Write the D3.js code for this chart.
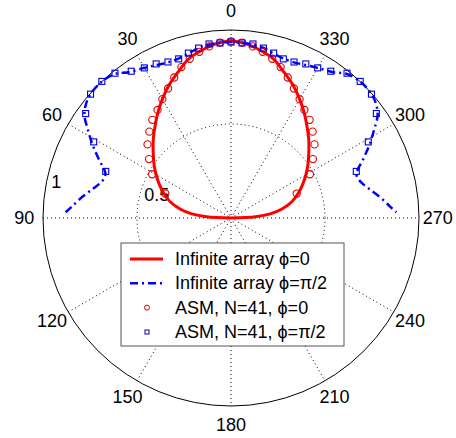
<!DOCTYPE html>
<html>
<head>
<meta charset="utf-8">
<script src="https://cdn.jsdelivr.net/npm/d3@7"></script>
<style>
  html, body { margin: 0; padding: 0; background: #fff; }
  svg { display: block; }
  text { font-family: "Liberation Sans", Arial, Helvetica, sans-serif; }
</style>
</head>
<body>
<svg id="chart" width="456" height="438"></svg>
<script>
// pattern values, one half (theta in degrees from broadside, other half is mirrored)
const lineAngles0 = [0, 5, 10, 15, 20, 25, 30, 35, 40, 45, 50, 55, 60, 65, 70, 75, 80, 84, 87, 90];
const lineValues0 = [0.941, 0.93, 0.905, 0.875, 0.825, 0.78, 0.73, 0.68, 0.63, 0.585, 0.54, 0.5, 0.46, 0.42, 0.38, 0.335, 0.275, 0.21, 0.13, 0];

const lineAngles90 = [0, 4, 7, 11, 14, 18, 22, 26, 30, 35, 39, 44, 49, 52, 55, 58, 62, 66, 70, 72, 75, 78, 82, 86, 88];
const lineValues90 = [0.936, 0.933, 0.93, 0.92, 0.906, 0.893, 0.893, 0.905, 0.922, 0.947, 0.985, 1.0, 0.995, 0.98, 0.952, 0.9, 0.835, 0.77, 0.712, 0.705, 0.72, 0.75, 0.8, 0.85, 0.88];

// ASM sample angles (N=41)
const asmAngles = [0, 3.6, 7.2, 10.8, 14.5, 18.2, 22.0, 25.9, 30.0, 34.2, 38.7, 43.4, 48.6, 54.3, 61.0, 69.6];
const asmValues0 = [0.94, 0.935, 0.92, 0.9, 0.875, 0.845, 0.806, 0.766, 0.73, 0.695, 0.669, 0.632, 0.592, 0.537, 0.48, 0.373];
const asmValues90 = [0.936, 0.933, 0.933, 0.92, 0.906, 0.891, 0.895, 0.911, 0.922, 0.944, 0.987, 1.0, 0.996, 0.952, 0.835, 0.711];

const spokeAngles = [0, 30, 60, 90, 120, 150];
const angleLabels = [0, 30, 60, 90, 120, 150, 180, 210, 240, 270, 300, 330];
const ringTicks = [0.5, 1];

const legendLabels = [
  "Infinite array \u03d5=0",
  "Infinite array \u03d5=\u03c0/2",
  "ASM, N=41, \u03d5=0",
  "ASM, N=41, \u03d5=\u03c0/2"
];

const svg = d3.select("#chart");
const cx = 231, cy = 218, R = 188;
const red = "#ff0000", blue = "#0000ff";

const rScale = d3.scaleLinear().domain([0, 1]).range([0, R]);
const rad = (deg) => -deg * Math.PI / 180; // counter-clockwise, 0 at top

const g = svg.append("g").attr("transform", `translate(${cx},${cy})`);

// mirror a half pattern into the full upper half-plane
function fullCurve(angles, values) {
  const left = angles.map((a, i) => ({ a: a, r: values[i] })).reverse();
  const right = angles.slice(1).map((a, i) => ({ a: -a, r: values[i + 1] }));
  return left.concat(right);
}
function pointsBoth(angles, values) {
  const pts = angles.map((a, i) => ({ a: a, r: values[i] }));
  return pts.concat(angles.slice(1).map((a, i) => ({ a: -a, r: values[i + 1] })));
}
const px = (d) => -rScale(d.r) * Math.sin(d.a * Math.PI / 180);
const py = (d) => -rScale(d.r) * Math.cos(d.a * Math.PI / 180);

// --- grid ---
g.selectAll("circle.ring")
  .data(ringTicks.filter((t) => t < 1))
  .enter()
  .append("circle")
  .attr("class", "ring")
  .attr("r", (d) => rScale(d))
  .attr("fill", "none")
  .attr("stroke", "#000")
  .attr("stroke-width", 1)
  .attr("stroke-dasharray", "1,3");

g.selectAll("line.spoke")
  .data(spokeAngles)
  .enter()
  .append("line")
  .attr("class", "spoke")
  .attr("x1", (d) => -rScale(1) * Math.sin(d * Math.PI / 180))
  .attr("y1", (d) => -rScale(1) * Math.cos(d * Math.PI / 180))
  .attr("x2", (d) => rScale(1) * Math.sin(d * Math.PI / 180))
  .attr("y2", (d) => rScale(1) * Math.cos(d * Math.PI / 180))
  .attr("stroke", "#000")
  .attr("stroke-width", 1)
  .attr("stroke-dasharray", "1,3");

g.append("circle")
  .attr("r", rScale(1))
  .attr("fill", "none")
  .attr("stroke", "#000")
  .attr("stroke-width", 1);

// angle labels
g.selectAll("text.angle")
  .data(angleLabels)
  .enter()
  .append("text")
  .attr("class", "angle")
  .attr("x", (d) => -rScale(1.1) * Math.sin(d * Math.PI / 180))
  .attr("y", (d) => -rScale(1.1) * Math.cos(d * Math.PI / 180))
  .attr("text-anchor", "middle")
  .attr("dominant-baseline", "central")
  .style("font-size", "18px")
  .text((d) => d);

// ring labels, placed along the 82 degree direction
g.selectAll("text.ring-label")
  .data(ringTicks)
  .enter()
  .append("text")
  .attr("class", "ring-label")
  .attr("x", (d) => -rScale(d + 0.025) * Math.sin(82 * Math.PI / 180) + 11)
  .attr("y", (d) => -rScale(d + 0.025) * Math.cos(82 * Math.PI / 180) - 3)
  .style("font-size", "18px")
  .text((d) => d);

// --- data ---
const radial = d3.lineRadial()
  .angle((d) => rad(d.a))
  .radius((d) => rScale(d.r))
  .curve(d3.curveCatmullRom);

g.append("path")
  .datum(fullCurve(lineAngles0, lineValues0))
  .attr("d", radial)
  .attr("fill", "none")
  .attr("stroke", red)
  .attr("stroke-width", 3);

g.append("path")
  .datum(fullCurve(lineAngles90, lineValues90))
  .attr("d", radial)
  .attr("fill", "none")
  .attr("stroke", blue)
  .attr("stroke-width", 2.5)
  .attr("stroke-dasharray", "8,4,2,4");

g.selectAll("circle.asm0")
  .data(pointsBoth(asmAngles, asmValues0))
  .enter()
  .append("circle")
  .attr("class", "asm0")
  .attr("cx", px)
  .attr("cy", py)
  .attr("r", 3.6)
  .attr("fill", "none")
  .attr("stroke", "#e00000")
  .attr("stroke-width", 1.1);

g.selectAll("rect.asm90")
  .data(pointsBoth(asmAngles, asmValues90))
  .enter()
  .append("rect")
  .attr("class", "asm90")
  .attr("x", (d) => px(d) - 3)
  .attr("y", (d) => py(d) - 3)
  .attr("width", 6)
  .attr("height", 6)
  .attr("fill", "none")
  .attr("stroke", "#0000dd")
  .attr("stroke-width", 1.1);

// --- legend ---
const legend = svg.append("g").attr("transform", "translate(121,243)");
legend.append("rect")
  .attr("width", 223)
  .attr("height", 103)
  .attr("fill", "#fff")
  .attr("stroke", "#555")
  .attr("stroke-width", 1);

const rowY = d3.scalePoint().domain(d3.range(legendLabels.length)).range([16, 89]);

legend.append("line")
  .attr("x1", 9).attr("x2", 42)
  .attr("y1", rowY(0)).attr("y2", rowY(0))
  .attr("stroke", red).attr("stroke-width", 3);
legend.append("line")
  .attr("x1", 9).attr("x2", 42)
  .attr("y1", rowY(1)).attr("y2", rowY(1))
  .attr("stroke", blue).attr("stroke-width", 2.5)
  .attr("stroke-dasharray", "8,4,2,4");
legend.append("circle")
  .attr("cx", 26).attr("cy", rowY(2)).attr("r", 2.5)
  .attr("fill", "none").attr("stroke", "#e00000").attr("stroke-width", 1);
legend.append("rect")
  .attr("x", 24).attr("y", rowY(3) - 2).attr("width", 4).attr("height", 4)
  .attr("fill", "none").attr("stroke", "#0000aa").attr("stroke-width", 1);

legend.selectAll("text")
  .data(legendLabels)
  .enter()
  .append("text")
  .attr("x", 54)
  .attr("y", (d, i) => rowY(i))
  .attr("dominant-baseline", "central")
  .style("font-size", "18px")
  .text((d) => d);
</script>
</body>
</html>
